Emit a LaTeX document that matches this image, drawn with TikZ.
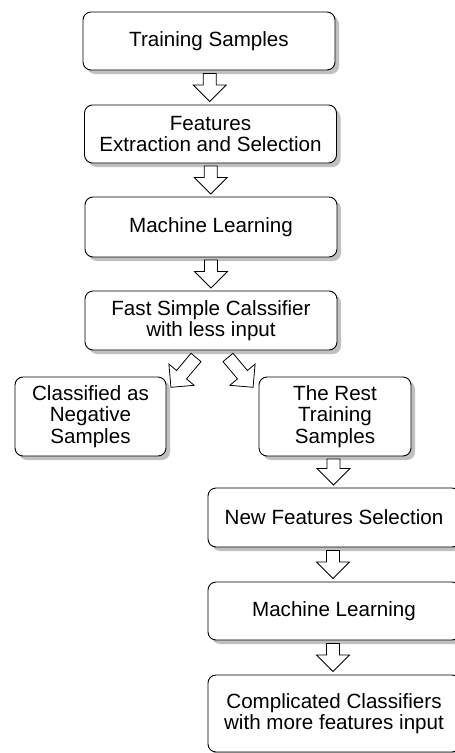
\documentclass[tikz,border=0pt]{standalone}
\usepackage{fontspec}
\setmainfont{Liberation Sans}
\usetikzlibrary{shadows,calc}
\definecolor{shadowgray}{RGB}{192,192,192}
\begin{document}
\begin{tikzpicture}[x=1pt,y=-1pt,
  box/.style={draw=black, line width=0.9pt, fill=white, rounded corners=8pt,
    minimum width=252pt, minimum height=58pt, align=center, inner sep=0pt,
    font=\fontsize{20.6}{21.5}\selectfont,
    drop shadow={shadow xshift=4pt, shadow yshift=-4pt, fill=shadowgray, opacity=1, draw=none}},
  arrowline/.style={draw=black, fill=white, line width=0.8pt, line join=miter},
  pics/barrow/.style={code={
    \draw[arrowline] (-6.5,0) -- (6.5,0) -- (6.5,{#1-16.5}) -- (16.5,{#1-16.5})
      -- (0,#1) -- (-16.5,{#1-16.5}) -- (-6.5,{#1-16.5}) -- cycle;}}
]
\useasboundingbox (0,0) rectangle (455,753);

\node[box] (b1) at (209,41) {Training Samples};
\node[box] (b2) at (210.5,134) {Features\\Extraction and Selection};
\node[box, minimum height=60pt] (b3) at (211,227) {Machine Learning};
\node[box, minimum height=59pt] (b4) at (211,320.5) {Fast Simple Calssifier\\with less input};
\node[box, minimum width=151pt, minimum height=79pt] (b5) at (90.5,416.5) {Classified as\\Negative\\Samples};
\node[box, minimum width=152pt, minimum height=79pt] (b6) at (335,416.5) {The Rest\\Training\\Samples};
\node[box, minimum height=59pt] (b7) at (334,517.5) {New Features Selection};
\node[box] (b8) at (334,611) {Machine Learning};
\node[box, minimum height=77pt] (b9) at (334,713.5) {Complicated Classifiers\\with more features input};

\pic at ($(b1.south)!0.5!(b2.north)+(0,-14)$) {barrow=28};
\pic at ($(b2.south)!0.5!(b3.north)+(0,-14)$) {barrow=28};
\pic at ($(b3.south)!0.5!(b4.north)+(0,-14)$) {barrow=28};
\pic[rotate=-40] at ($(b4.south)+(-15,7)$) {barrow=39};
\pic[rotate=40] at ($(b4.south)+(17,7)$) {barrow=39};
\pic at ($(b6.south)!0.5!(b7.north)+(-1,-13)$) {barrow=26};
\pic at ($(b7.south)!0.5!(b8.north)+(-1,-14)$) {barrow=28};
\pic at ($(b8.south)!0.5!(b9.north)+(-1,-14)$) {barrow=28};
\end{tikzpicture}
\end{document}
